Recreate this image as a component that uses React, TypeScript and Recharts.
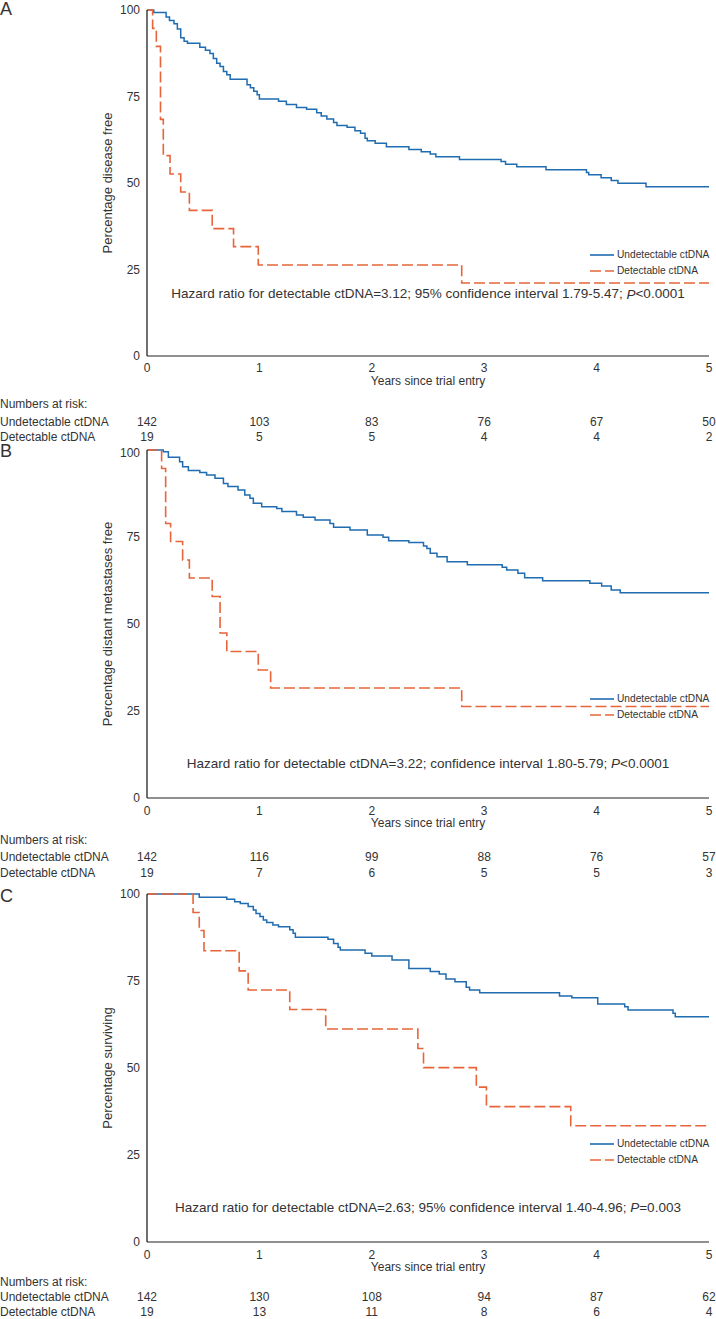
import React from "react";
import { LineChart, Line, XAxis, YAxis, ReferenceDot } from "recharts";

type Pt = [number, number];

const years = [0, 1, 2, 3, 4, 5];
const yTicks = [0, 25, 50, 75, 100];
const seriesNames = ["Undetectable ctDNA", "Detectable ctDNA"];
const BLUE = "#1f6cb0";
const ORANGE = "#e8643a";
const INK = "#333";

// A: disease free
const dfsUndetectable: Pt[] = [
  [0, 100], [0.06, 99.3], [0.17, 98], [0.2, 97], [0.24, 96], [0.27, 94.5], [0.3, 92], [0.33, 91],
  [0.36, 90.4], [0.47, 89.2], [0.52, 88.4], [0.56, 87.4], [0.59, 86], [0.62, 84.6], [0.65, 83.7],
  [0.68, 82.2], [0.71, 81.3], [0.74, 80], [0.89, 78.4], [0.92, 77.5], [0.95, 76.5], [0.98, 75.5],
  [1.0, 74.3], [1.17, 73.6], [1.24, 72.7], [1.33, 71.8], [1.42, 71.3], [1.51, 70.3], [1.55, 69.4],
  [1.6, 68.5], [1.66, 67.5], [1.69, 66.6], [1.78, 66.1], [1.85, 65.1], [1.9, 64.4], [1.94, 62.9],
  [1.96, 62.2], [2.03, 61.5], [2.13, 60.5], [2.33, 59.7], [2.44, 59.0], [2.52, 58.4], [2.57, 57.6],
  [2.78, 56.8], [3.15, 56.2], [3.19, 55.4], [3.29, 54.7], [3.55, 53.8], [3.91, 53.0], [3.93, 52.4],
  [4.04, 51.5], [4.13, 50.7], [4.19, 49.9], [4.44, 48.9], [5.0, 48.9],
];
const dfsDetectable: Pt[] = [
  [0, 100], [0.05, 94.7], [0.083, 89.5], [0.12, 68.4], [0.145, 57.9], [0.205, 52.6], [0.3, 47.4],
  [0.377, 42.1], [0.58, 36.8], [0.77, 31.6], [0.99, 26.3], [2.8, 21.1], [5.0, 21.1],
];
const riskAUndetectable = [142, 103, 83, 76, 67, 50];
const riskADetectable = [19, 5, 5, 4, 4, 2];

// B: distant metastases free
const dmfUndetectable: Pt[] = [
  [0, 100], [0.145, 99.5], [0.19, 97.9], [0.29, 96.6], [0.317, 95.2], [0.368, 94.1], [0.47, 93.5],
  [0.53, 92.8], [0.605, 91.9], [0.68, 90.4], [0.72, 89.5], [0.81, 88.5], [0.87, 87.1], [0.916, 86.1],
  [0.946, 84.7], [1.02, 83.7], [1.154, 83.2], [1.2, 82.3], [1.33, 81.3], [1.39, 80.7], [1.495, 79.9],
  [1.628, 78.9], [1.66, 77.8], [1.806, 77.0], [1.96, 75.6], [2.1, 74.9], [2.15, 73.9], [2.33, 73.4],
  [2.46, 72.4], [2.49, 71.7], [2.52, 70.3], [2.58, 69.3], [2.67, 67.9], [2.85, 67.0], [3.16, 66.3],
  [3.2, 65.5], [3.3, 64.6], [3.36, 63.3], [3.52, 62.4], [3.94, 61.7], [4.045, 60.9], [4.13, 59.8],
  [4.21, 59.0], [5.0, 59.0],
];
const dmfDetectable: Pt[] = [
  [0, 100], [0.13, 94.7], [0.166, 78.9], [0.21, 73.7], [0.317, 68.4], [0.377, 63.2], [0.58, 57.9],
  [0.65, 47.4], [0.71, 42.1], [0.99, 36.8], [1.1, 31.6], [2.8, 26.3], [5.0, 26.3],
];
const riskBUndetectable = [142, 116, 99, 88, 76, 57];
const riskBDetectable = [19, 7, 6, 5, 5, 3];

// C: overall survival
const osUndetectable: Pt[] = [
  [0, 100], [0.465, 99.1], [0.71, 98.5], [0.78, 97.8], [0.83, 97.3], [0.9, 96.4], [0.946, 95.4],
  [0.97, 94.4], [1.005, 93.5], [1.035, 92.5], [1.065, 91.8], [1.12, 91.1], [1.17, 90.6], [1.27, 89.7],
  [1.3, 88.7], [1.32, 87.6], [1.61, 87.0], [1.66, 85.8], [1.7, 84.7], [1.72, 83.9], [1.94, 83.0],
  [2.0, 82.2], [2.18, 81.0], [2.33, 78.6], [2.52, 77.7], [2.6, 77.0], [2.66, 75.6], [2.74, 74.8],
  [2.84, 73.2], [2.87, 72.4], [2.96, 71.6], [3.67, 70.7], [3.78, 70.2], [4.01, 68.4], [4.25, 67.6],
  [4.28, 66.7], [4.68, 65.7], [4.7, 64.7], [5.0, 64.7],
];
const osDetectable: Pt[] = [
  [0, 100], [0.41, 94.7], [0.465, 89.5], [0.507, 83.7], [0.82, 77.9], [0.9, 72.4], [1.27, 66.8],
  [1.59, 61.2], [2.41, 55.6], [2.46, 50.1], [2.93, 44.5], [3.02, 38.9], [3.77, 33.4], [5.0, 33.4],
];
const riskCUndetectable = [142, 130, 108, 94, 87, 62];
const riskCDetectable = [19, 13, 11, 8, 6, 4];

const toRows = (pts: Pt[]) => pts.map(([t, v]) => ({ t, v }));

interface PanelProps {
  letter: string;
  top: number;
  letterTop: number;
  marginTop: number;
  plotH: number;
  yLabel: string;
  undetectable: Pt[];
  detectable: Pt[];
  riskU: number[];
  riskD: number[];
  hazard: string;
  pValue: string;
  hazardY: number;
  tickC: number;
  yearsC: number;
  hdrC: number;
  uC: number;
  dC: number;
  legendTop: number;
}

// draws "Numbers at risk:" plus both rows under each year tick
const RiskTick = (props: any) => {
  const { x, y, payload, riskU, riskD, uOff, dOff } = props;
  const i = years.indexOf(payload.value);
  return (
    <g fill={INK} fontSize={12}>
      {i === 0 && (
        <>
          <text x={0} y={y} dy="0.71em">Numbers at risk:</text>
          <text x={0} y={y + uOff} dy="0.71em">{seriesNames[0]}</text>
          <text x={0} y={y + dOff} dy="0.71em">{seriesNames[1]}</text>
        </>
      )}
      <text x={x} y={y + uOff} dy="0.71em" textAnchor="middle">{riskU[i]}</text>
      <text x={x} y={y + dOff} dy="0.71em" textAnchor="middle">{riskD[i]}</text>
    </g>
  );
};

const Panel: React.FC<PanelProps> = (p) => {
  const mainH = 30;
  const riskH = p.dC + 8 - mainH;
  const height = p.marginTop + p.plotH + mainH + riskH;
  const blueRows = toRows(p.undetectable);
  const orangeRows = toRows(p.detectable);
  return (
    <div style={{ position: "absolute", left: 0, top: p.top, width: 716, height }}>
      <div style={{ position: "absolute", left: 0, top: p.letterTop - p.top, fontSize: 18, color: INK, lineHeight: "14px" }}>
        {p.letter}
      </div>
      <LineChart width={716} height={height} margin={{ top: p.marginTop, right: 7, left: 0, bottom: 0 }}>
        <YAxis
          type="number"
          domain={[0, 100]}
          ticks={yTicks}
          width={147}
          tickLine={false}
          tickSize={0}
          tickMargin={7}
          axisLine={{ stroke: "#111", strokeWidth: 1.2 }}
          tick={{ fill: INK, fontSize: 12 }}
          label={(lp: any) => {
            const vb = lp.viewBox;
            const cy = vb.y + vb.height / 2;
            return (
              <text x={107} y={cy} transform={`rotate(-90 107 ${cy})`} textAnchor="middle" dominantBaseline="central" fill={INK} fontSize={13}>
                {p.yLabel}
              </text>
            );
          }}
        />
        <XAxis
          dataKey="t"
          type="number"
          domain={[0, 5]}
          ticks={years}
          height={mainH}
          tickLine={false}
          tickSize={0}
          tickMargin={p.tickC - 4}
          axisLine={{ stroke: "#222", strokeWidth: 1.2 }}
          tick={{ fill: INK, fontSize: 12 }}
          label={(lp: any) => {
            const vb = lp.viewBox;
            return (
              <text x={vb.x + vb.width / 2} y={vb.y + p.yearsC + 4} textAnchor="middle" fill={INK} fontSize={12}>
                Years since trial entry
              </text>
            );
          }}
        />
        <XAxis
          xAxisId="risk"
          dataKey="t"
          type="number"
          domain={[0, 5]}
          ticks={years}
          height={riskH}
          axisLine={false}
          tickLine={false}
          tickSize={0}
          tickMargin={p.hdrC - 4 - mainH}
          tick={<RiskTick riskU={p.riskU} riskD={p.riskD} uOff={p.uC - p.hdrC} dOff={p.dC - p.hdrC} />}
        />
        {/* invisible carrier so the numbers-at-risk axis gets a scale */}
        <Line xAxisId="risk" data={orangeRows} dataKey="v" stroke="none" dot={false} activeDot={false} legendType="none" isAnimationActive={false} />
        <Line
          data={blueRows}
          dataKey="v"
          type="stepAfter"
          stroke={BLUE}
          strokeWidth={1.5}
          dot={false}
          isAnimationActive={false}
        />
        <Line
          data={orangeRows}
          dataKey="v"
          type="stepAfter"
          stroke={ORANGE}
          strokeWidth={1.6}
          strokeDasharray="11 4"
          dot={false}
          isAnimationActive={false}
        />
        <ReferenceDot
          x={2.5}
          y={p.hazardY}
          r={0}
          fill="none"
          stroke="none"
          label={(lp: any) => {
            const vb = lp.viewBox;
            return (
              <text x={vb.x + (vb.width || 0) / 2} y={vb.y + (vb.height || 0) / 2} textAnchor="middle" dominantBaseline="central" fill={INK} fontSize={13.5}>
                {p.hazard}
                <tspan fontStyle="italic">P</tspan>
                {p.pValue}
              </text>
            );
          }}
        />
      </LineChart>
      <div style={{ position: "absolute", left: 589, top: p.legendTop, fontSize: 10.2, color: INK, lineHeight: "16px", whiteSpace: "nowrap" }}>
        {seriesNames.map((name, i) => (
          <div key={name} style={{ display: "flex", alignItems: "center", height: 16 }}>
            <svg width={25} height={16} style={{ marginRight: 3 }}>
              <line x1={1} x2={25} y1={8} y2={8} stroke={i === 0 ? BLUE : ORANGE} strokeWidth={1.6} strokeDasharray={i === 0 ? undefined : "11 4"} />
            </svg>
            <span>{name}</span>
          </div>
        ))}
      </div>
    </div>
  );
};

export default function App() {
  return (
    <div style={{ position: "relative", width: 716, height: 1319, overflow: "hidden", fontFamily: "'Liberation Sans', Arial, sans-serif", background: "#fff" }}>
      <style>{`body{margin:0}`}</style>
      <Panel
        letter="A" top={0} letterTop={2} marginTop={10} plotH={346}
        yLabel="Percentage disease free"
        undetectable={dfsUndetectable} detectable={dfsDetectable}
        riskU={riskAUndetectable} riskD={riskADetectable}
        hazard="Hazard ratio for detectable ctDNA=3.12; 95% confidence interval 1.79-5.47; " pValue="<0.0001"
        hazardY={18} tickC={11} yearsC={25} hdrC={47} uC={65} dC={80} legendTop={247}
      />
      <Panel
        letter="B" top={445} letterTop={444} marginTop={5} plotH={348}
        yLabel="Percentage distant metastases free"
        undetectable={dmfUndetectable} detectable={dmfDetectable}
        riskU={riskBUndetectable} riskD={riskBDetectable}
        hazard="Hazard ratio for detectable ctDNA=3.22; confidence interval 1.80-5.79; " pValue="<0.0001"
        hazardY={10} tickC={12} yearsC={25} hdrC={41} uC={58} dC={74} legendTop={246}
      />
      <Panel
        letter="C" top={885} letterTop={889} marginTop={9} plotH={348}
        yLabel="Percentage surviving"
        undetectable={osUndetectable} detectable={osDetectable}
        riskU={riskCUndetectable} riskD={riskCDetectable}
        hazard="Hazard ratio for detectable ctDNA=2.63; 95% confidence interval 1.40-4.96; " pValue="=0.003"
        hazardY={10} tickC={12} yearsC={25} hdrC={39} uC={54} dC={69} legendTop={251}
      />
    </div>
  );
}
